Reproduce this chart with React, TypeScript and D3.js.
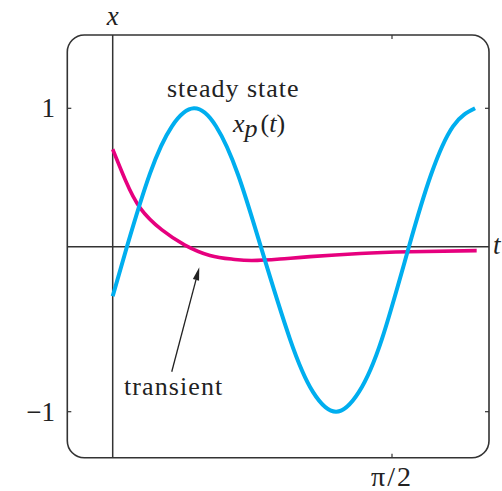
import React from 'react';
import * as d3 from 'd3';

// readings taken off the figure (t in radians, x in units of the tick marks)
const steadyT = [0, 0.08, 0.21, 0.333, 0.457, 0.581, 0.705, 0.833, 0.997, 1.126, 1.256, 1.385, 1.514, 1.666, 1.79, 1.914, 2.038];
const steadyX = [-0.3, 0, 0.53, 0.87, 1.0, 0.87, 0.52, 0, -0.56, -0.88, -1.0, -0.88, -0.56, 0, 0.52, 0.87, 1.0];

const transientT = [0, 0.071, 0.155, 0.277, 0.406, 0.547, 0.676, 0.783, 0.941, 1.11, 1.391, 1.672, 2.047];
const transientX = [0.704, 0.482, 0.279, 0.121, 0.012, -0.053, -0.076, -0.084, -0.075, -0.06, -0.041, -0.031, -0.024];

const yTickValues = [1, -1];
const yTickLabels = ['1', '\u22121'];
const tTickValues = [Math.PI / 2];
const tTickLabels = ['\u03c0/2'];

// arrow for "transient" label: [tail, tip] in data units
const arrowT = [0.332, 0.487];
const arrowX = [-0.758, -0.125];

const W = 502;
const H = 491;
const frame = { left: 67.3, top: 35, right: 489, bottom: 457.7, r: 17 };
const serif = '"Liberation Serif", "DejaVu Serif", serif';
const BLUE = '#00aeef';
const MAGENTA = '#e6007e';
const INK = '#333';

export default function App() {
  const x = d3.scaleLinear().domain([0, Math.PI / 2]).range([112.7, 392]);
  // the printed figure puts the t axis a bit above the middle of the +/-1 band
  const y = d3.scaleLinear().domain([-1, 0, 1]).range([411.7, 246.7, 108.3]);

  const line = d3
    .line<[number, number]>()
    .x((d) => x(d[0]))
    .y((d) => y(d[1]))
    .curve(d3.curveNatural);

  const steady = line(steadyT.map((t, i) => [t, steadyX[i]]));
  const transient = line(transientT.map((t, i) => [t, transientX[i]]));

  const x0 = x(arrowT[0]);
  const y0 = y(arrowX[0]);
  const x1 = x(arrowT[1]);
  const y1 = y(arrowX[1]);
  const ang = Math.atan2(y1 - y0, x1 - x0);
  const headLen = 13;
  const headW = 3.2;
  const bx = x1 - headLen * Math.cos(ang);
  const by = y1 - headLen * Math.sin(ang);
  const head = [
    [x1, y1],
    [bx + headW * Math.sin(ang), by - headW * Math.cos(ang)],
    [bx - headW * Math.sin(ang), by + headW * Math.cos(ang)],
  ]
    .map((p) => p.join(','))
    .join(' ');

  const tick = 4;

  return (
    <svg
      width={W}
      height={H}
      style={{ position: 'absolute', left: 0, top: 0, background: '#fff' }}
      fontFamily={serif}
    >
      <rect
        x={frame.left}
        y={frame.top}
        width={frame.right - frame.left}
        height={frame.bottom - frame.top}
        rx={frame.r}
        fill="none"
        stroke={INK}
        strokeWidth={1.6}
      />

      {/* axes */}
      <line x1={x(0)} x2={x(0)} y1={frame.top} y2={frame.bottom} stroke={INK} strokeWidth={1.5} />
      <line x1={frame.left} x2={frame.right} y1={y(0)} y2={y(0)} stroke={INK} strokeWidth={1.5} />

      {/* ticks on the frame */}
      {yTickValues.map((v) => (
        <g key={'yt' + v}>
          <line x1={frame.left} x2={frame.left + tick} y1={y(v)} y2={y(v)} stroke={INK} strokeWidth={1.2} />
          <line x1={frame.right - tick} x2={frame.right} y1={y(v)} y2={y(v)} stroke={INK} strokeWidth={1.2} />
        </g>
      ))}
      {tTickValues.map((v) => (
        <g key={'tt' + v}>
          <line x1={x(v)} x2={x(v)} y1={frame.top} y2={frame.top + tick} stroke={INK} strokeWidth={1.2} />
          <line x1={x(v)} x2={x(v)} y1={frame.bottom - tick} y2={frame.bottom} stroke={INK} strokeWidth={1.2} />
        </g>
      ))}

      {/* tick labels */}
      {yTickValues.map((v, i) => (
        <text key={'yl' + v} x={55} y={y(v) + 9} textAnchor="end" fontSize={27} fill="#222">
          {yTickLabels[i]}
        </text>
      ))}
      {tTickValues.map((v, i) => (
        <text key={'tl' + v} x={x(v)} y={486} textAnchor="middle" fontSize={28} letterSpacing={2} fill="#222">
          {tTickLabels[i]}
        </text>
      ))}

      {/* axis names */}
      <text x={x(0)} y={25} textAnchor="middle" fontSize={27} fontStyle="italic" fill="#222">
        x
      </text>
      <text x={493} y={254} fontSize={27} fontStyle="italic" fill="#222">
        t
      </text>

      {/* curves */}
      <path d={transient ?? ''} fill="none" stroke={MAGENTA} strokeWidth={3.6} />
      <path d={steady ?? ''} fill="none" stroke={BLUE} strokeWidth={4} />

      {/* annotations */}
      <text x={167} y={97} fontSize={26} letterSpacing={1} fill="#222">
        steady state
      </text>
      <text x={233} y={132} fontSize={26} fill="#222">
        <tspan fontStyle="italic">x</tspan>
        <tspan fontStyle="italic" dy={5}>p</tspan>
        <tspan dy={-5} dx={3}>(</tspan>
        <tspan fontStyle="italic">t</tspan>
        <tspan>)</tspan>
      </text>
      <text x={124} y={395} fontSize={26} letterSpacing={1.1} fill="#222">
        transient
      </text>
      <line x1={x0} y1={y0} x2={bx} y2={by} stroke="#222" strokeWidth={1.3} />
      <polygon points={head} fill="#222" />
    </svg>
  );
}
